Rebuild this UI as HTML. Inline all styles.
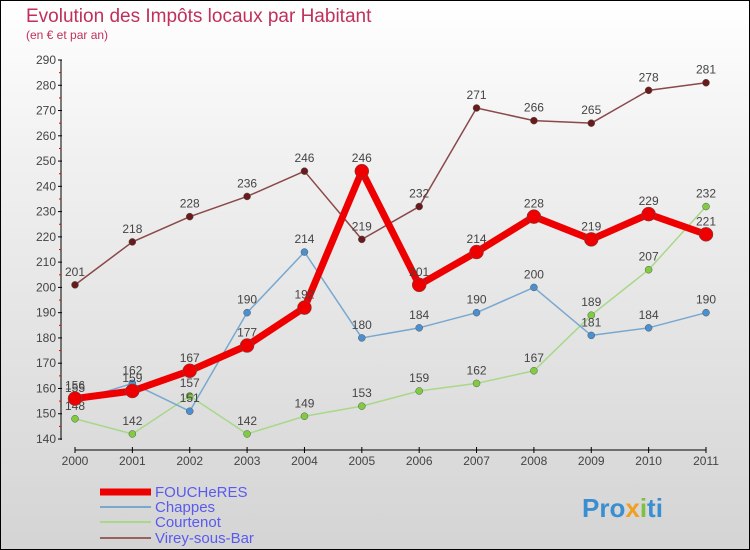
<!DOCTYPE html>
<html><head><meta charset="utf-8"><style>
body{margin:0;}
#wrap{width:750px;height:550px;position:relative;overflow:hidden;background:linear-gradient(#fff 0%,#f0f0f0 30%,#d4d4d4 100%);font-family:"Liberation Sans",sans-serif;}
svg text{font-family:"Liberation Sans",sans-serif;}
</style></head><body>
<div id="wrap">
<svg id="chart" width="750" height="550">
<rect x="0.5" y="0.5" width="749" height="549" fill="none" stroke="#000"/>
<text x="26" y="22" font-size="19" fill="#c0305a">Evolution des Impôts locaux par Habitant</text>
<text x="26" y="39" font-size="12" fill="#c0305a">(en € et par an)</text>
<g id="axes"></g><g id="series"></g><g id="legend"></g>
<text x="582" y="517" font-size="26" font-weight="bold" fill="#3a8fd0">Pro<tspan fill="#f0a020">x</tspan><tspan fill="#80c040">i</tspan>ti</text>
</svg>
</div>
<script>
const years=[2000,2001,2002,2003,2004,2005,2006,2007,2008,2009,2010,2011];
const yTicks=[140,150,160,170,180,190,200,210,220,230,240,250,260,270,280,290];
const foucheres=[156,159,167,177,192,246,201,214,228,219,229,221];
const chappes=[155,162,151,190,214,180,184,190,200,181,184,190];
const courtenot=[148,142,157,142,149,153,159,162,167,189,207,232];
const virey=[201,218,228,236,246,219,232,271,266,265,278,281];
const names=["FOUCHeRES","Chappes","Courtenot","Virey-sous-Bar"];
const NS="http://www.w3.org/2000/svg";
function xs(i){return 75+i*(706-75)/11;}
function ys(v){return 439-(v-140)*(379/150);}
function mk(tag,attrs,parent){const e=document.createElementNS(NS,tag);for(const k in attrs)e.setAttribute(k,attrs[k]);parent.appendChild(e);return e;}
const ax=document.getElementById('axes');
const yl=mk('line',{x1:61,y1:60,x2:61,y2:440,stroke:'#000'},ax);


yTicks.forEach(v=>{
 const y=ys(v);
 mk('line',{x1:58,y1:y,x2:62,y2:y,stroke:'#000'},ax);
 if(v<290) mk('line',{x1:59,y1:y-12.6,x2:61,y2:y-12.6,stroke:'#e00'},ax);
 const t=mk('text',{x:56,y:y+4,'font-size':12,fill:'#444','text-anchor':'end'},ax);
 t.textContent=v;
 
 
});
const xl=mk('line',{x1:75,y1:450,x2:706,y2:450,stroke:'#000'},ax);


years.forEach((yr,i)=>{
 const x=xs(i);
 mk('line',{x1:x,y1:447,x2:x,y2:453,stroke:'#000'},ax);
 const t=mk('text',{x:x,y:465,'font-size':12,fill:'#444','text-anchor':'middle'},ax);
 t.textContent=yr;
 
 
});
const sg=document.getElementById('series');
function draw(data,color,w,r,dot,key){
 const g=mk('g',{},sg);
 
 
 const pts=data.map((v,i)=>xs(i)+','+ys(v)).join(' ');
 const pl=mk('polyline',{points:pts,fill:'none',stroke:color,'stroke-width':w,'stroke-linejoin':'round'},g);
 
 
 data.forEach((v,i)=>{
  const c=mk('circle',{cx:xs(i),cy:ys(v),r:r,fill:dot,stroke:'#555','stroke-width':0.5},g);
  
  
  const t=mk('text',{x:xs(i),y:ys(v)-9,'font-size':12,fill:'#444','text-anchor':'middle'},g);
  t.textContent=v;
  
  
 });
}
draw(courtenot,'#a8d888',1.5,3.5,'#80cc40','courtenot');
draw(chappes,'#78a8d0',1.5,3.5,'#4a90d0','chappes');
draw(virey,'#8a4848',1.5,3.5,'#6a1a1a','virey');
draw(foucheres,'#ee0000',7,7,'#ee0000','foucheres');
const lg=document.getElementById('legend');
const lc=['#ee0000','#78a8d0','#a8d888','#9a6060'],lw=[7,2,2,2],ly=[492,507,522,538];
names.forEach((n,i)=>{
 const g=mk('g',{},lg);
 
 
 mk('line',{x1:100,y1:ly[i],x2:151,y2:ly[i],stroke:lc[i],'stroke-width':lw[i]},g);
 const t=mk('text',{x:155,y:ly[i]+5,'font-size':15,fill:'#5a5aee'},g);
 t.textContent=n;
});
</script>
</body></html>
